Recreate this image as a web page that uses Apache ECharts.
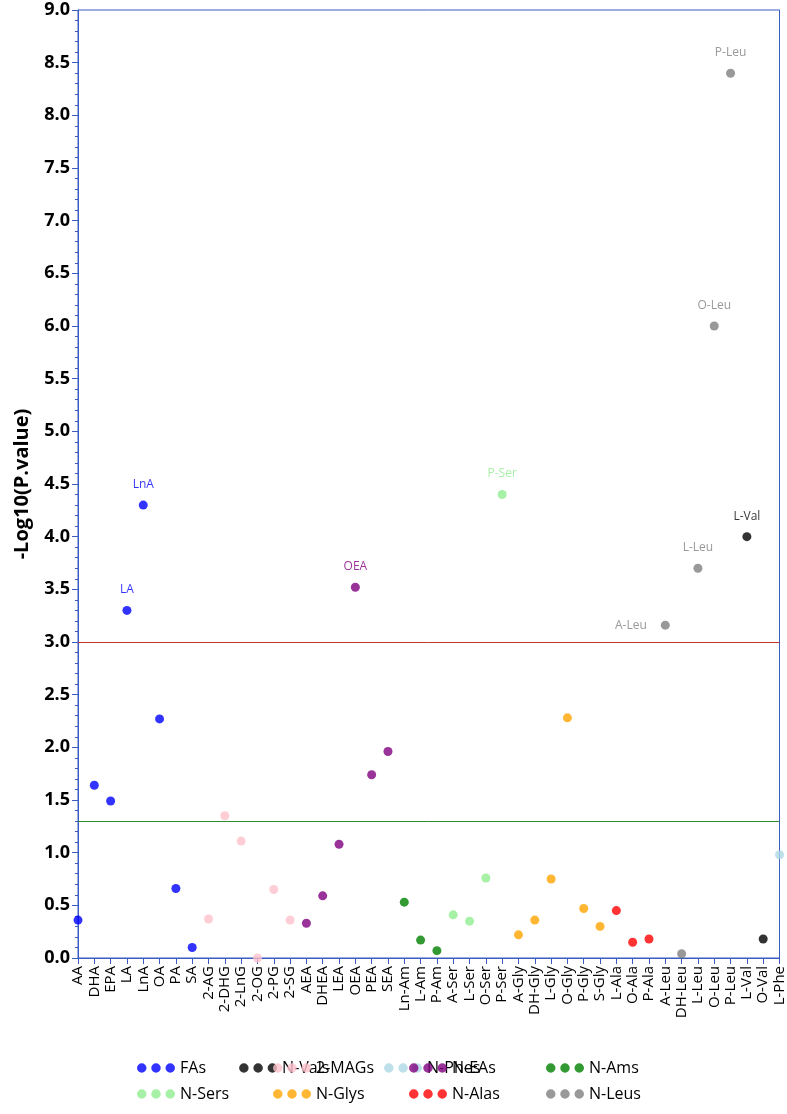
<!DOCTYPE html>
<html><head><meta charset="utf-8">
<script src="https://cdn.jsdelivr.net/npm/echarts@6/dist/echarts.min.js"></script>
<style>html,body{margin:0;padding:0;background:#fff}#c{width:787px;height:1114px}</style>
</head><body><div id="c"></div>
<script>
const categories = ["AA","DHA","EPA","LA","LnA","OA","PA","SA","2-AG","2-DHG","2-LnG","2-OG","2-PG","2-SG","AEA","DHEA","LEA","OEA","PEA","SEA","Ln-Am","L-Am","P-Am","A-Ser","L-Ser","O-Ser","P-Ser","A-Gly","DH-Gly","L-Gly","O-Gly","P-Gly","S-Gly","L-Ala","O-Ala","P-Ala","A-Leu","DH-Leu","L-Leu","O-Leu","P-Leu","L-Val","O-Val","L-Phe"];
const values = [0.36,1.64,1.49,3.3,4.3,2.27,0.66,0.1,0.37,1.35,1.11,0.0,0.65,0.36,0.33,0.59,1.08,3.52,1.74,1.96,0.53,0.17,0.07,0.41,0.35,0.76,4.4,0.22,0.36,0.75,2.28,0.47,0.3,0.45,0.15,0.18,3.16,0.04,3.7,6.0,8.4,4.0,0.18,0.98];
const groupOf = ["FAs","FAs","FAs","FAs","FAs","FAs","FAs","FAs","2-MAGs","2-MAGs","2-MAGs","2-MAGs","2-MAGs","2-MAGs","N-EAs","N-EAs","N-EAs","N-EAs","N-EAs","N-EAs","N-Ams","N-Ams","N-Ams","N-Sers","N-Sers","N-Sers","N-Sers","N-Glys","N-Glys","N-Glys","N-Glys","N-Glys","N-Glys","N-Alas","N-Alas","N-Alas","N-Leus","N-Leus","N-Leus","N-Leus","N-Leus","N-Vals","N-Vals","N-Phes"];
const groups = ["FAs","2-MAGs","N-EAs","N-Ams","N-Sers","N-Glys","N-Alas","N-Leus","N-Vals","N-Phes"];
const groupColors = ["#0000ff","#ffc0cb","#800080","#008000","#90ee90","#ffa500","#ff0000","#808080","#000000","#add8e6"];
const labelled = ["LA","LnA","OEA","P-Ser","A-Leu","L-Leu","O-Leu","P-Leu","L-Val"];
const yTicks = [0,9,0.5];

const icon = 'path://M0,5a5,5 0 1,0 10,0a5,5 0 1,0 -10,0M15,5a5,5 0 1,0 10,0a5,5 0 1,0 -10,0M30,5a5,5 0 1,0 10,0a5,5 0 1,0 -10,0';
const series = groups.map((g,gi)=>({
  name:g, type:'scatter', symbolSize:9,
  itemStyle:{color:groupColors[gi]},
  data: categories.map((c,i)=>groupOf[i]===g?{value:[c,values[i]],
    label:{show:labelled.includes(c), position: c==='A-Leu'?'left':'top', distance: c==='A-Leu'?14:10,
      formatter:c, color:groupColors[gi], fontSize:12, fontFamily:'Open Sans'}}:null).filter(x=>x)
}));
series[0].markLine = {silent:true,symbol:'none',label:{show:false},
  data:[{yAxis:3,lineStyle:{color:'#c0392b',width:1,type:'solid'}},{yAxis:1.3,lineStyle:{color:'#2e8b2e',width:1,type:'solid'}}]};
const leg = (names,left)=>({show:true,data:names,orient:'vertical',left:left,top:1055,itemWidth:38,itemHeight:10,itemGap:10,icon:icon,
  textStyle:{fontSize:16,fontFamily:'Open Sans',color:'#000',width:70,align:'right'}});
const axisC='#3a5bbf';
const chart = echarts.init(document.getElementById('c'),null,{renderer:'canvas'});
chart.setOption({
  animation:false,
  grid:{left:78,right:2,top:10,bottom:156,show:true,borderColor:axisC,borderWidth:1},
  legend:[leg(["FAs","N-Sers","N-Vals"],132),leg(["2-MAGs","N-Glys","N-Phes"],268),leg(["N-EAs","N-Alas"],404),leg(["N-Ams","N-Leus"],541)],
  xAxis:{type:'category',data:categories,boundaryGap:false,
    axisLine:{lineStyle:{color:axisC}},axisTick:{alignWithLabel:true,lineStyle:{color:axisC},length:6},
    axisLabel:{rotate:90,interval:0,fontSize:15,fontFamily:'Open Sans',color:'#000',margin:8}},
  yAxis:{type:'value',min:yTicks[0],max:yTicks[1],interval:yTicks[2],
    name:'-Log10(P.value)',nameLocation:'middle',nameGap:46,nameTextStyle:{fontSize:20,fontWeight:'bold',fontFamily:'Open Sans',color:'#000'},
    axisLine:{show:true,lineStyle:{color:axisC}},axisTick:{show:true,lineStyle:{color:axisC},length:6},
    minorTick:{show:true,splitNumber:5,length:3,lineStyle:{color:axisC}},splitLine:{show:false},
    axisLabel:{fontSize:18,fontWeight:'bold',fontFamily:'Open Sans',color:'#000',formatter:v=>v.toFixed(1)}},
  series:series
});
</script></body></html>
